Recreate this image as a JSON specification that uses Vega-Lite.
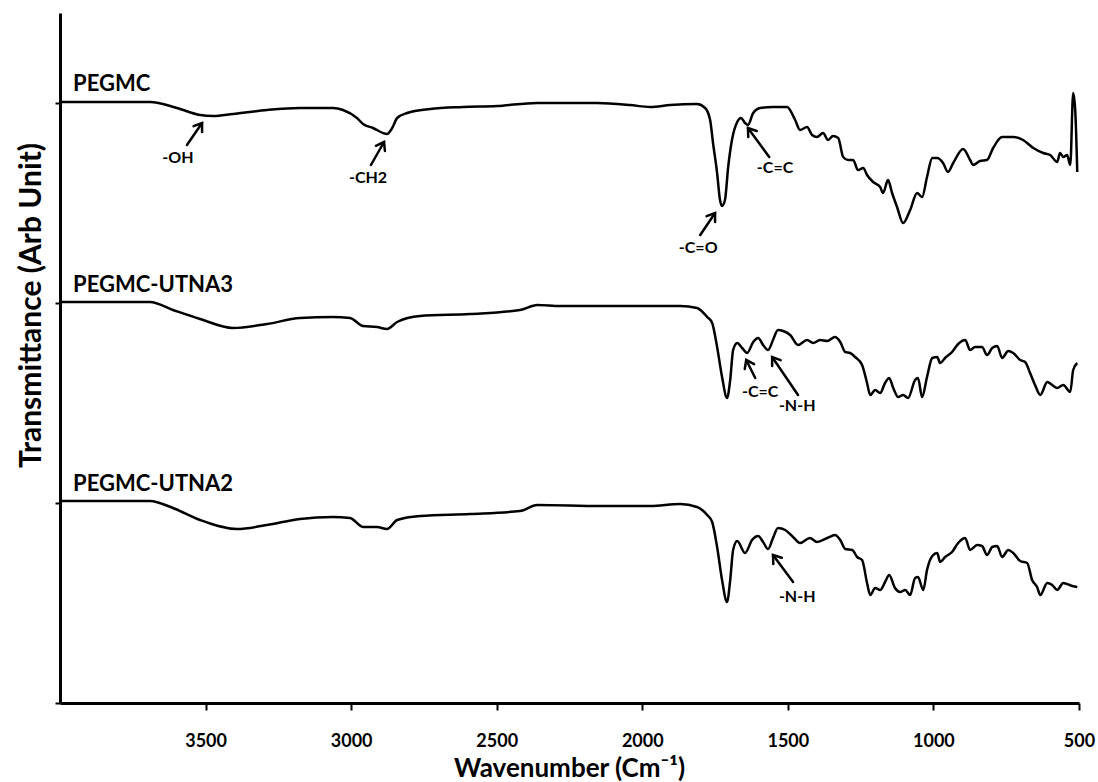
{
  "$schema": "https://vega.github.io/schema/vega-lite/v6.json",
  "width": 1019,
  "height": 690,
  "autosize": {"type": "none"},
  "padding": {"left": 60, "top": 13, "right": 19, "bottom": 79},
  "background": "white",
  "config": {"view": {"stroke": null}, "font": "Lato"},
  "datasets": {
    "spectra": [
      {"s":"PEGMC","wn":4000,"t":3.005},{"s":"PEGMC","wn":3691,"t":3.005},{"s":"PEGMC","wn":3598,"t":2.975},{"s":"PEGMC","wn":3519,"t":2.94},{"s":"PEGMC","wn":3474,"t":2.935},{"s":"PEGMC","wn":3406,"t":2.945},{"s":"PEGMC","wn":3289,"t":2.965},{"s":"PEGMC","wn":3176,"t":2.975},{"s":"PEGMC","wn":3062,"t":2.975},{"s":"PEGMC","wn":3028,"t":2.965},{"s":"PEGMC","wn":2980,"t":2.925},{"s":"PEGMC","wn":2959,"t":2.895},{"s":"PEGMC","wn":2925,"t":2.875},{"s":"PEGMC","wn":2877,"t":2.845},{"s":"PEGMC","wn":2859,"t":2.875},{"s":"PEGMC","wn":2842,"t":2.925},{"s":"PEGMC","wn":2808,"t":2.95},{"s":"PEGMC","wn":2729,"t":2.97},{"s":"PEGMC","wn":2616,"t":2.98},{"s":"PEGMC","wn":2499,"t":2.985},{"s":"PEGMC","wn":2361,"t":3.0},{"s":"PEGMC","wn":2272,"t":3.0},{"s":"PEGMC","wn":2155,"t":3.0},{"s":"PEGMC","wn":2042,"t":2.99},{"s":"PEGMC","wn":1973,"t":2.98},{"s":"PEGMC","wn":1904,"t":2.99},{"s":"PEGMC","wn":1812,"t":2.995},{"s":"PEGMC","wn":1784,"t":2.975},{"s":"PEGMC","wn":1767,"t":2.915},{"s":"PEGMC","wn":1757,"t":2.8},{"s":"PEGMC","wn":1743,"t":2.65},{"s":"PEGMC","wn":1733,"t":2.515},{"s":"PEGMC","wn":1726,"t":2.485},{"s":"PEGMC","wn":1716,"t":2.515},{"s":"PEGMC","wn":1705,"t":2.68},{"s":"PEGMC","wn":1692,"t":2.815},{"s":"PEGMC","wn":1674,"t":2.905},{"s":"PEGMC","wn":1661,"t":2.925},{"s":"PEGMC","wn":1647,"t":2.9},{"s":"PEGMC","wn":1637,"t":2.89},{"s":"PEGMC","wn":1619,"t":2.95},{"s":"PEGMC","wn":1595,"t":2.975},{"s":"PEGMC","wn":1551,"t":2.98},{"s":"PEGMC","wn":1503,"t":2.98},{"s":"PEGMC","wn":1475,"t":2.915},{"s":"PEGMC","wn":1458,"t":2.865},{"s":"PEGMC","wn":1434,"t":2.88},{"s":"PEGMC","wn":1417,"t":2.84},{"s":"PEGMC","wn":1400,"t":2.83},{"s":"PEGMC","wn":1379,"t":2.85},{"s":"PEGMC","wn":1362,"t":2.815},{"s":"PEGMC","wn":1345,"t":2.835},{"s":"PEGMC","wn":1327,"t":2.825},{"s":"PEGMC","wn":1310,"t":2.73},{"s":"PEGMC","wn":1293,"t":2.715},{"s":"PEGMC","wn":1276,"t":2.715},{"s":"PEGMC","wn":1259,"t":2.665},{"s":"PEGMC","wn":1241,"t":2.675},{"s":"PEGMC","wn":1228,"t":2.64},{"s":"PEGMC","wn":1207,"t":2.605},{"s":"PEGMC","wn":1183,"t":2.58},{"s":"PEGMC","wn":1173,"t":2.55},{"s":"PEGMC","wn":1156,"t":2.615},{"s":"PEGMC","wn":1142,"t":2.55},{"s":"PEGMC","wn":1125,"t":2.48},{"s":"PEGMC","wn":1104,"t":2.4},{"s":"PEGMC","wn":1080,"t":2.465},{"s":"PEGMC","wn":1056,"t":2.55},{"s":"PEGMC","wn":1039,"t":2.53},{"s":"PEGMC","wn":1022,"t":2.63},{"s":"PEGMC","wn":1004,"t":2.725},{"s":"PEGMC","wn":987,"t":2.725},{"s":"PEGMC","wn":967,"t":2.7},{"s":"PEGMC","wn":950,"t":2.655},{"s":"PEGMC","wn":932,"t":2.7},{"s":"PEGMC","wn":898,"t":2.77},{"s":"PEGMC","wn":874,"t":2.715},{"s":"PEGMC","wn":864,"t":2.69},{"s":"PEGMC","wn":840,"t":2.71},{"s":"PEGMC","wn":816,"t":2.715},{"s":"PEGMC","wn":795,"t":2.775},{"s":"PEGMC","wn":764,"t":2.83},{"s":"PEGMC","wn":726,"t":2.83},{"s":"PEGMC","wn":692,"t":2.815},{"s":"PEGMC","wn":657,"t":2.775},{"s":"PEGMC","wn":623,"t":2.75},{"s":"PEGMC","wn":599,"t":2.74},{"s":"PEGMC","wn":575,"t":2.705},{"s":"PEGMC","wn":565,"t":2.75},{"s":"PEGMC","wn":554,"t":2.73},{"s":"PEGMC","wn":541,"t":2.74},{"s":"PEGMC","wn":530,"t":2.69},{"s":"PEGMC","wn":520,"t":3.05},{"s":"PEGMC","wn":513,"t":2.965},{"s":"PEGMC","wn":506,"t":2.655},
      {"s":"PEGMC-UTNA3","wn":4000,"t":2.005},{"s":"PEGMC-UTNA3","wn":3691,"t":2.005},{"s":"PEGMC-UTNA3","wn":3612,"t":1.965},{"s":"PEGMC-UTNA3","wn":3519,"t":1.92},{"s":"PEGMC-UTNA3","wn":3406,"t":1.875},{"s":"PEGMC-UTNA3","wn":3289,"t":1.895},{"s":"PEGMC-UTNA3","wn":3176,"t":1.925},{"s":"PEGMC-UTNA3","wn":3062,"t":1.93},{"s":"PEGMC-UTNA3","wn":3004,"t":1.925},{"s":"PEGMC-UTNA3","wn":2959,"t":1.885},{"s":"PEGMC-UTNA3","wn":2911,"t":1.88},{"s":"PEGMC-UTNA3","wn":2877,"t":1.87},{"s":"PEGMC-UTNA3","wn":2842,"t":1.905},{"s":"PEGMC-UTNA3","wn":2763,"t":1.935},{"s":"PEGMC-UTNA3","wn":2592,"t":1.945},{"s":"PEGMC-UTNA3","wn":2420,"t":1.965},{"s":"PEGMC-UTNA3","wn":2361,"t":1.99},{"s":"PEGMC-UTNA3","wn":2282,"t":1.985},{"s":"PEGMC-UTNA3","wn":2145,"t":1.985},{"s":"PEGMC-UTNA3","wn":1973,"t":1.985},{"s":"PEGMC-UTNA3","wn":1870,"t":1.985},{"s":"PEGMC-UTNA3","wn":1812,"t":1.975},{"s":"PEGMC-UTNA3","wn":1777,"t":1.93},{"s":"PEGMC-UTNA3","wn":1760,"t":1.9},{"s":"PEGMC-UTNA3","wn":1743,"t":1.78},{"s":"PEGMC-UTNA3","wn":1726,"t":1.63},{"s":"PEGMC-UTNA3","wn":1709,"t":1.525},{"s":"PEGMC-UTNA3","wn":1698,"t":1.615},{"s":"PEGMC-UTNA3","wn":1688,"t":1.765},{"s":"PEGMC-UTNA3","wn":1674,"t":1.8},{"s":"PEGMC-UTNA3","wn":1657,"t":1.775},{"s":"PEGMC-UTNA3","wn":1640,"t":1.75},{"s":"PEGMC-UTNA3","wn":1619,"t":1.805},{"s":"PEGMC-UTNA3","wn":1602,"t":1.825},{"s":"PEGMC-UTNA3","wn":1585,"t":1.79},{"s":"PEGMC-UTNA3","wn":1568,"t":1.765},{"s":"PEGMC-UTNA3","wn":1551,"t":1.815},{"s":"PEGMC-UTNA3","wn":1534,"t":1.865},{"s":"PEGMC-UTNA3","wn":1516,"t":1.86},{"s":"PEGMC-UTNA3","wn":1492,"t":1.84},{"s":"PEGMC-UTNA3","wn":1465,"t":1.79},{"s":"PEGMC-UTNA3","wn":1434,"t":1.815},{"s":"PEGMC-UTNA3","wn":1413,"t":1.8},{"s":"PEGMC-UTNA3","wn":1389,"t":1.815},{"s":"PEGMC-UTNA3","wn":1365,"t":1.81},{"s":"PEGMC-UTNA3","wn":1338,"t":1.83},{"s":"PEGMC-UTNA3","wn":1320,"t":1.805},{"s":"PEGMC-UTNA3","wn":1303,"t":1.755},{"s":"PEGMC-UTNA3","wn":1286,"t":1.75},{"s":"PEGMC-UTNA3","wn":1269,"t":1.73},{"s":"PEGMC-UTNA3","wn":1245,"t":1.69},{"s":"PEGMC-UTNA3","wn":1228,"t":1.6},{"s":"PEGMC-UTNA3","wn":1217,"t":1.54},{"s":"PEGMC-UTNA3","wn":1200,"t":1.565},{"s":"PEGMC-UTNA3","wn":1183,"t":1.55},{"s":"PEGMC-UTNA3","wn":1166,"t":1.6},{"s":"PEGMC-UTNA3","wn":1152,"t":1.625},{"s":"PEGMC-UTNA3","wn":1138,"t":1.575},{"s":"PEGMC-UTNA3","wn":1121,"t":1.53},{"s":"PEGMC-UTNA3","wn":1104,"t":1.54},{"s":"PEGMC-UTNA3","wn":1087,"t":1.525},{"s":"PEGMC-UTNA3","wn":1063,"t":1.615},{"s":"PEGMC-UTNA3","wn":1053,"t":1.625},{"s":"PEGMC-UTNA3","wn":1039,"t":1.53},{"s":"PEGMC-UTNA3","wn":1022,"t":1.63},{"s":"PEGMC-UTNA3","wn":1004,"t":1.725},{"s":"PEGMC-UTNA3","wn":987,"t":1.73},{"s":"PEGMC-UTNA3","wn":977,"t":1.7},{"s":"PEGMC-UTNA3","wn":960,"t":1.725},{"s":"PEGMC-UTNA3","wn":936,"t":1.755},{"s":"PEGMC-UTNA3","wn":915,"t":1.795},{"s":"PEGMC-UTNA3","wn":891,"t":1.815},{"s":"PEGMC-UTNA3","wn":874,"t":1.765},{"s":"PEGMC-UTNA3","wn":857,"t":1.78},{"s":"PEGMC-UTNA3","wn":833,"t":1.78},{"s":"PEGMC-UTNA3","wn":816,"t":1.74},{"s":"PEGMC-UTNA3","wn":798,"t":1.775},{"s":"PEGMC-UTNA3","wn":781,"t":1.785},{"s":"PEGMC-UTNA3","wn":764,"t":1.725},{"s":"PEGMC-UTNA3","wn":743,"t":1.76},{"s":"PEGMC-UTNA3","wn":726,"t":1.75},{"s":"PEGMC-UTNA3","wn":702,"t":1.715},{"s":"PEGMC-UTNA3","wn":685,"t":1.705},{"s":"PEGMC-UTNA3","wn":668,"t":1.65},{"s":"PEGMC-UTNA3","wn":651,"t":1.59},{"s":"PEGMC-UTNA3","wn":633,"t":1.54},{"s":"PEGMC-UTNA3","wn":609,"t":1.605},{"s":"PEGMC-UTNA3","wn":592,"t":1.59},{"s":"PEGMC-UTNA3","wn":575,"t":1.575},{"s":"PEGMC-UTNA3","wn":554,"t":1.59},{"s":"PEGMC-UTNA3","wn":530,"t":1.555},{"s":"PEGMC-UTNA3","wn":520,"t":1.665},{"s":"PEGMC-UTNA3","wn":506,"t":1.7},
      {"s":"PEGMC-UTNA2","wn":4000,"t":1.01},{"s":"PEGMC-UTNA2","wn":3691,"t":1.01},{"s":"PEGMC-UTNA2","wn":3612,"t":0.975},{"s":"PEGMC-UTNA2","wn":3519,"t":0.915},{"s":"PEGMC-UTNA2","wn":3392,"t":0.87},{"s":"PEGMC-UTNA2","wn":3289,"t":0.89},{"s":"PEGMC-UTNA2","wn":3176,"t":0.92},{"s":"PEGMC-UTNA2","wn":3062,"t":0.93},{"s":"PEGMC-UTNA2","wn":3004,"t":0.925},{"s":"PEGMC-UTNA2","wn":2959,"t":0.88},{"s":"PEGMC-UTNA2","wn":2911,"t":0.88},{"s":"PEGMC-UTNA2","wn":2877,"t":0.87},{"s":"PEGMC-UTNA2","wn":2842,"t":0.915},{"s":"PEGMC-UTNA2","wn":2763,"t":0.935},{"s":"PEGMC-UTNA2","wn":2592,"t":0.945},{"s":"PEGMC-UTNA2","wn":2420,"t":0.96},{"s":"PEGMC-UTNA2","wn":2361,"t":0.99},{"s":"PEGMC-UTNA2","wn":2145,"t":0.985},{"s":"PEGMC-UTNA2","wn":1973,"t":0.985},{"s":"PEGMC-UTNA2","wn":1870,"t":0.995},{"s":"PEGMC-UTNA2","wn":1812,"t":0.98},{"s":"PEGMC-UTNA2","wn":1777,"t":0.94},{"s":"PEGMC-UTNA2","wn":1760,"t":0.905},{"s":"PEGMC-UTNA2","wn":1743,"t":0.78},{"s":"PEGMC-UTNA2","wn":1726,"t":0.615},{"s":"PEGMC-UTNA2","wn":1709,"t":0.505},{"s":"PEGMC-UTNA2","wn":1698,"t":0.615},{"s":"PEGMC-UTNA2","wn":1688,"t":0.765},{"s":"PEGMC-UTNA2","wn":1674,"t":0.81},{"s":"PEGMC-UTNA2","wn":1647,"t":0.75},{"s":"PEGMC-UTNA2","wn":1623,"t":0.815},{"s":"PEGMC-UTNA2","wn":1602,"t":0.835},{"s":"PEGMC-UTNA2","wn":1585,"t":0.805},{"s":"PEGMC-UTNA2","wn":1568,"t":0.77},{"s":"PEGMC-UTNA2","wn":1551,"t":0.825},{"s":"PEGMC-UTNA2","wn":1534,"t":0.875},{"s":"PEGMC-UTNA2","wn":1509,"t":0.865},{"s":"PEGMC-UTNA2","wn":1482,"t":0.83},{"s":"PEGMC-UTNA2","wn":1458,"t":0.8},{"s":"PEGMC-UTNA2","wn":1424,"t":0.825},{"s":"PEGMC-UTNA2","wn":1400,"t":0.805},{"s":"PEGMC-UTNA2","wn":1365,"t":0.825},{"s":"PEGMC-UTNA2","wn":1338,"t":0.84},{"s":"PEGMC-UTNA2","wn":1320,"t":0.815},{"s":"PEGMC-UTNA2","wn":1303,"t":0.77},{"s":"PEGMC-UTNA2","wn":1279,"t":0.765},{"s":"PEGMC-UTNA2","wn":1262,"t":0.73},{"s":"PEGMC-UTNA2","wn":1245,"t":0.715},{"s":"PEGMC-UTNA2","wn":1228,"t":0.6},{"s":"PEGMC-UTNA2","wn":1217,"t":0.54},{"s":"PEGMC-UTNA2","wn":1200,"t":0.575},{"s":"PEGMC-UTNA2","wn":1183,"t":0.565},{"s":"PEGMC-UTNA2","wn":1166,"t":0.605},{"s":"PEGMC-UTNA2","wn":1152,"t":0.64},{"s":"PEGMC-UTNA2","wn":1132,"t":0.575},{"s":"PEGMC-UTNA2","wn":1114,"t":0.555},{"s":"PEGMC-UTNA2","wn":1097,"t":0.565},{"s":"PEGMC-UTNA2","wn":1080,"t":0.54},{"s":"PEGMC-UTNA2","wn":1063,"t":0.625},{"s":"PEGMC-UTNA2","wn":1053,"t":0.63},{"s":"PEGMC-UTNA2","wn":1035,"t":0.565},{"s":"PEGMC-UTNA2","wn":1022,"t":0.665},{"s":"PEGMC-UTNA2","wn":1004,"t":0.735},{"s":"PEGMC-UTNA2","wn":987,"t":0.75},{"s":"PEGMC-UTNA2","wn":977,"t":0.705},{"s":"PEGMC-UTNA2","wn":960,"t":0.73},{"s":"PEGMC-UTNA2","wn":936,"t":0.755},{"s":"PEGMC-UTNA2","wn":915,"t":0.8},{"s":"PEGMC-UTNA2","wn":891,"t":0.825},{"s":"PEGMC-UTNA2","wn":874,"t":0.765},{"s":"PEGMC-UTNA2","wn":850,"t":0.79},{"s":"PEGMC-UTNA2","wn":833,"t":0.785},{"s":"PEGMC-UTNA2","wn":816,"t":0.74},{"s":"PEGMC-UTNA2","wn":798,"t":0.78},{"s":"PEGMC-UTNA2","wn":781,"t":0.785},{"s":"PEGMC-UTNA2","wn":764,"t":0.73},{"s":"PEGMC-UTNA2","wn":743,"t":0.765},{"s":"PEGMC-UTNA2","wn":726,"t":0.75},{"s":"PEGMC-UTNA2","wn":702,"t":0.71},{"s":"PEGMC-UTNA2","wn":678,"t":0.7},{"s":"PEGMC-UTNA2","wn":661,"t":0.615},{"s":"PEGMC-UTNA2","wn":644,"t":0.58},{"s":"PEGMC-UTNA2","wn":633,"t":0.54},{"s":"PEGMC-UTNA2","wn":609,"t":0.6},{"s":"PEGMC-UTNA2","wn":592,"t":0.59},{"s":"PEGMC-UTNA2","wn":575,"t":0.565},{"s":"PEGMC-UTNA2","wn":554,"t":0.6},{"s":"PEGMC-UTNA2","wn":523,"t":0.585},{"s":"PEGMC-UTNA2","wn":506,"t":0.58}
    ],
    "arrows": [
      {"seg":"OH-s","o":1,"wn":3564,"t":2.79},{"seg":"OH-s","o":2,"wn":3512,"t":2.9},
      {"seg":"OH-h","o":1,"wn":3541,"t":2.884},{"seg":"OH-h","o":2,"wn":3512,"t":2.9},{"seg":"OH-h","o":3,"wn":3512,"t":2.855},
      {"seg":"CH2-s","o":1,"wn":2932,"t":2.69},{"seg":"CH2-s","o":2,"wn":2887,"t":2.805},
      {"seg":"CH2-h","o":1,"wn":2915,"t":2.786},{"seg":"CH2-h","o":2,"wn":2887,"t":2.805},{"seg":"CH2-h","o":3,"wn":2884,"t":2.76},
      {"seg":"CO-s","o":1,"wn":1801,"t":2.34},{"seg":"CO-s","o":2,"wn":1750,"t":2.45},
      {"seg":"CO-h","o":1,"wn":1779,"t":2.434},{"seg":"CO-h","o":2,"wn":1750,"t":2.45},{"seg":"CO-h","o":3,"wn":1750,"t":2.405},
      {"seg":"CC1-s","o":1,"wn":1564,"t":2.73},{"seg":"CC1-s","o":2,"wn":1637,"t":2.875},
      {"seg":"CC1-h","o":1,"wn":1636,"t":2.83},{"seg":"CC1-h","o":2,"wn":1637,"t":2.875},{"seg":"CC1-h","o":3,"wn":1607,"t":2.86},
      {"seg":"CC2-s","o":1,"wn":1612,"t":1.625},{"seg":"CC2-s","o":2,"wn":1643,"t":1.715},
      {"seg":"CC2-h","o":1,"wn":1648,"t":1.67},{"seg":"CC2-h","o":2,"wn":1643,"t":1.715},{"seg":"CC2-h","o":3,"wn":1616,"t":1.694},
      {"seg":"NH3-s","o":1,"wn":1465,"t":1.54},{"seg":"NH3-s","o":2,"wn":1554,"t":1.73},
      {"seg":"NH3-h","o":1,"wn":1554,"t":1.685},{"seg":"NH3-h","o":2,"wn":1554,"t":1.73},{"seg":"NH3-h","o":3,"wn":1525,"t":1.714},
      {"seg":"NH2-s","o":1,"wn":1482,"t":0.605},{"seg":"NH2-s","o":2,"wn":1551,"t":0.74},
      {"seg":"NH2-h","o":1,"wn":1550,"t":0.695},{"seg":"NH2-h","o":2,"wn":1551,"t":0.74},{"seg":"NH2-h","o":3,"wn":1521,"t":0.726}
    ],
    "names": [
      {"label":"PEGMC","wn":3955,"t":3.06},
      {"label":"PEGMC-UTNA3","wn":3955,"t":2.055},
      {"label":"PEGMC-UTNA2","wn":3955,"t":1.06}
    ],
    "notes": [
      {"label":"-OH","wn":3595,"t":2.7},
      {"label":"-CH2","wn":2942,"t":2.6},
      {"label":"-C=O","wn":1808,"t":2.25},
      {"label":"-C=C","wn":1544,"t":2.65},
      {"label":"-C=C","wn":1595,"t":1.53},
      {"label":"-N-H","wn":1468,"t":1.46},
      {"label":"-N-H","wn":1468,"t":0.505}
    ]
  },
  "layer": [
    {
      "data": {"name": "spectra"},
      "mark": {"type": "line", "color": "black", "strokeWidth": 2.5, "interpolate": "monotone", "clip": true},
      "encoding": {
        "x": {
          "field": "wn", "type": "quantitative",
          "title": "Wavenumber (Cm⁻¹)",
          "scale": {"domain": [4000, 500], "nice": false, "zero": false},
          "axis": {
            "values": [3500, 3000, 2500, 2000, 1500, 1000, 500],
            "format": "d",
            "grid": false,
            "domainColor": "black", "domainWidth": 3,
            "tickColor": "black", "tickWidth": 2, "tickSize": 7,
            "labelFont": "Lato", "labelFontSize": 18, "labelFontWeight": "bold", "labelColor": "black",
            "labelPadding": 22, "labelFlush": false, "labelOverlap": false,
            "titleFont": "Lato", "titleFontSize": 26, "titleFontWeight": "bold", "titleColor": "black",
            "titleX": 509, "titleY": 73, "titleBaseline": "alphabetic", "titleAlign": "center"
          }
        },
        "y": {
          "field": "t", "type": "quantitative",
          "title": "Transmittance (Arb Unit)",
          "scale": {"domain": [0, 3.45], "nice": false, "zero": false},
          "axis": {
            "values": [0, 1, 2, 3],
            "labels": false,
            "grid": false,
            "domainColor": "black", "domainWidth": 3,
            "tickColor": "black", "tickWidth": 2, "tickSize": 5,
            "titleFont": "Lato", "titleFontSize": 30, "titleFontWeight": "bold", "titleColor": "black",
            "titleAngle": -90, "titleX": -29, "titleY": 292, "titleBaseline": "middle", "titleAlign": "center"
          }
        },
        "detail": {"field": "s", "type": "nominal"}
      }
    },
    {
      "data": {"name": "arrows"},
      "mark": {"type": "line", "color": "black", "strokeWidth": 2.5, "strokeCap": "round", "strokeJoin": "miter"},
      "encoding": {
        "x": {"field": "wn", "type": "quantitative", "title": "Wavenumber (Cm⁻¹)"},
        "y": {"field": "t", "type": "quantitative", "title": "Transmittance (Arb Unit)"},
        "detail": {"field": "seg", "type": "nominal"},
        "order": {"field": "o", "type": "quantitative"}
      }
    },
    {
      "data": {"name": "names"},
      "mark": {"type": "text", "align": "left", "baseline": "alphabetic", "font": "Lato", "fontSize": 22, "fontWeight": "bold", "color": "black"},
      "encoding": {
        "x": {"field": "wn", "type": "quantitative", "title": "Wavenumber (Cm⁻¹)"},
        "y": {"field": "t", "type": "quantitative", "title": "Transmittance (Arb Unit)"},
        "text": {"field": "label", "type": "nominal"}
      }
    },
    {
      "data": {"name": "notes"},
      "mark": {"type": "text", "align": "center", "baseline": "alphabetic", "font": "Lato", "fontSize": 16, "fontWeight": "bold", "color": "black"},
      "encoding": {
        "x": {"field": "wn", "type": "quantitative", "title": "Wavenumber (Cm⁻¹)"},
        "y": {"field": "t", "type": "quantitative", "title": "Transmittance (Arb Unit)"},
        "text": {"field": "label", "type": "nominal"}
      }
    }
  ]
}
